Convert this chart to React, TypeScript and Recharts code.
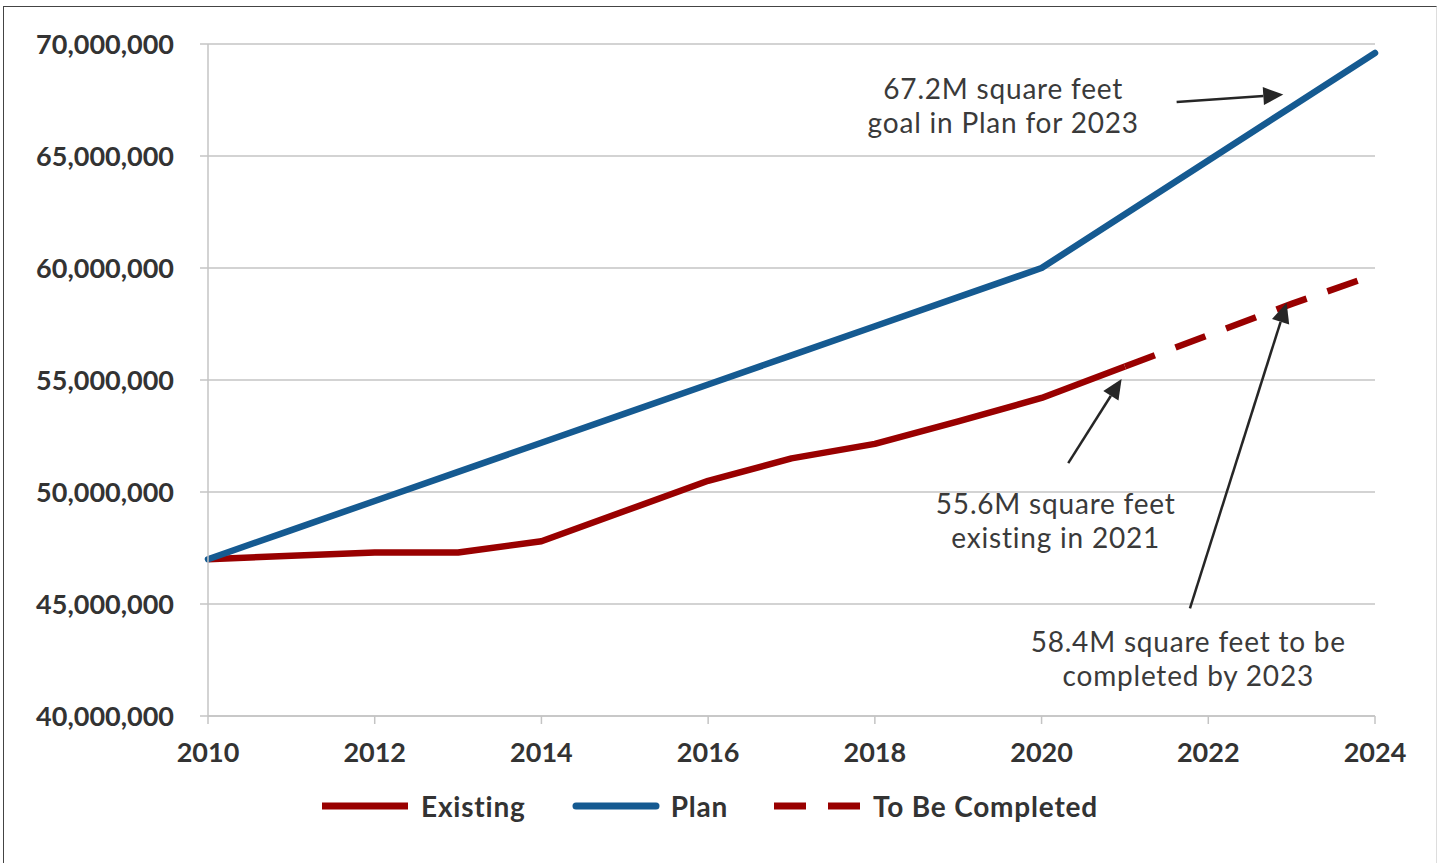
import React from "react";
import {
  LineChart,
  Line,
  XAxis,
  YAxis,
  CartesianGrid,
  Legend,
  ReferenceDot,
  ReferenceLine,
} from "recharts";

// ---- data (millions of square feet) ----
const years = [2010, 2011, 2012, 2013, 2014, 2015, 2016, 2017, 2018, 2019, 2020, 2021, 2022, 2023, 2024];
const existingM = [47.0, 47.15, 47.3, 47.3, 47.8, 49.15, 50.5, 51.5, 52.15, 53.15, 54.2, 55.6, null, null, null];
const planM = [47.0, 48.3, 49.6, 50.9, 52.2, 53.5, 54.8, 56.1, 57.4, 58.7, 60.0, 62.4, 64.8, 67.2, 69.6];
const toBeCompletedM = [null, null, null, null, null, null, null, null, null, null, null, 55.6, 57.0, 58.4, 59.7];
const xTicks = [2010, 2012, 2014, 2016, 2018, 2020, 2022, 2024];
const yTicks = [40000000, 45000000, 50000000, 55000000, 60000000, 65000000, 70000000];

const seriesNames = ["Existing", "Plan", "To Be Completed"];

const annotationTexts = [
  ["67.2M square feet", "goal in Plan for 2023"],
  ["55.6M square feet", "existing in 2021"],
  ["58.4M square feet to be", "completed by 2023"],
];
// annotation anchor points (year, value) for text and arrows
const textAnchors = [
  { x: 2019.54, y: 68040000 },
  { x: 2020.17, y: 49510000 },
  { x: 2021.76, y: 43350000 },
];
const arrows = [
  { from: { x: 2021.62, y: 67410000 }, to: { x: 2022.9, y: 67740000 } },
  { from: { x: 2020.32, y: 51290000 }, to: { x: 2020.96, y: 55050000 } },
  { from: { x: 2021.78, y: 44800000 }, to: { x: 2022.94, y: 58450000 } },
];

const toNum = (v: number | null) => (v == null ? null : Math.round(v * 1e6));
const data = years.map((yr, i) => ({
  year: yr,
  existing: toNum(existingM[i]),
  plan: toNum(planM[i]),
  tbc: toNum(toBeCompletedM[i]),
}));

const RED = "#990000";
const BLUE = "#155a91";
const GRID = "#c4c4c4";
const TEXT = "#333333";
const FONT = "Lato, 'Open Sans', sans-serif";

const AnnotationText = (lines: string[]) => (props: any) => {
  const { cx, cy } = props;
  return (
    <text
      x={cx}
      y={cy}
      textAnchor="middle"
      fill="#3a3a3a"
      fontFamily={FONT}
      fontSize={28}
      fontWeight={400}
      letterSpacing={0.8}
      dominantBaseline="central"
    >
      {lines.map((l, i) => (
        <tspan key={i} x={cx} dy={i === 0 ? 0 : 34}>
          {l}
        </tspan>
      ))}
    </text>
  );
};

const ArrowShape = (props: any) => {
  const { x1, y1, x2, y2 } = props;
  if ([x1, y1, x2, y2].some((v) => v == null || isNaN(v))) return null;
  const dx = x2 - x1;
  const dy = y2 - y1;
  const len = Math.sqrt(dx * dx + dy * dy);
  const ux = dx / len;
  const uy = dy / len;
  const headL = 20;
  const headW = 9;
  const bx = x2 - ux * headL;
  const by = y2 - uy * headL;
  const px = -uy;
  const py = ux;
  return (
    <g>
      <line x1={x1} y1={y1} x2={bx} y2={by} stroke="#262626" strokeWidth={2.5} />
      <polygon
        points={`${x2},${y2} ${bx + px * headW},${by + py * headW} ${bx - px * headW},${by - py * headW}`}
        fill="#262626"
      />
    </g>
  );
};

const LegendContent = () => {
  const items = [
    { name: seriesNames[0], color: RED, dash: undefined as string | undefined, cap: "butt" },
    { name: seriesNames[1], color: BLUE, dash: undefined, cap: "round" },
    { name: seriesNames[2], color: RED, dash: "32 22", cap: "butt" },
  ];
  return (
    <div style={{ display: "flex", alignItems: "center", height: 40 }}>
      {items.map((it, i) => (
        <div key={i} style={{ display: "flex", alignItems: "center", marginRight: i < 2 ? 46 : 0 }}>
          <svg width={88} height={12} style={{ display: "block" }}>
            <line
              x1={it.cap === "round" ? 4 : 0}
              y1={6}
              x2={it.cap === "round" ? 84 : 86}
              y2={6}
              stroke={it.color}
              strokeWidth={7}
              strokeDasharray={it.dash}
              strokeLinecap={it.cap as any}
            />
          </svg>
          <span
            style={{
              marginLeft: 11,
              fontFamily: FONT,
              fontWeight: 700,
              fontSize: 28,
              letterSpacing: 0.8,
              color: TEXT,
            }}
          >
            {it.name}
          </span>
        </div>
      ))}
    </div>
  );
};

export default function App() {
  return (
    <div style={{ position: "absolute", left: 0, top: 0, width: 1442, height: 863, background: "#fff" }}>
      <div
        style={{
          position: "absolute",
          left: 3,
          top: 6,
          width: 1432,
          height: 870,
          borderLeft: "1.5px solid #444",
          borderTop: "1.5px solid #444",
          borderRight: "1px solid #ddd",
        }}
      />
      <LineChart
        width={1442}
        height={863}
        data={data}
        margin={{ top: 44, right: 67, bottom: 67, left: 0 }}
      >
        <CartesianGrid vertical={false} stroke={GRID} strokeWidth={1.5} />
        <XAxis
          dataKey="year"
          type="number"
          domain={[2010, 2024]}
          ticks={xTicks}
          height={40}
          stroke={GRID}
          strokeWidth={1.5}
          tickSize={8}
          tickMargin={19}
          tick={{ fill: TEXT, fontFamily: FONT, fontWeight: 700, fontSize: 27 }}
          allowDecimals={false}
        />
        <YAxis
          type="number"
          domain={[40000000, 70000000]}
          ticks={yTicks}
          width={208}
          stroke={GRID}
          strokeWidth={1.5}
          tickSize={8}
          tickMargin={26}
          tickFormatter={(v: number) => v.toLocaleString("en-US")}
          tick={{ fill: TEXT, fontFamily: FONT, fontWeight: 700, fontSize: 27 }}
        />
        <Legend
          verticalAlign="bottom"
          content={<LegendContent />}
          wrapperStyle={{ top: 786, bottom: "auto", left: 322, width: "auto", height: 40 }}
        />
        <Line
          name={seriesNames[0]}
          dataKey="existing"
          stroke={RED}
          strokeWidth={6.5}
          dot={false}
          type="linear"
          isAnimationActive={false}
          connectNulls={false}
          strokeLinejoin="round"
        />
        <Line
          name={seriesNames[2]}
          dataKey="tbc"
          stroke={RED}
          strokeWidth={6.5}
          strokeDasharray="32 22"
          dot={false}
          type="linear"
          isAnimationActive={false}
        />
        <Line
          name={seriesNames[1]}
          dataKey="plan"
          stroke={BLUE}
          strokeWidth={6.5}
          dot={false}
          type="linear"
          isAnimationActive={false}
          strokeLinecap="round"
          strokeLinejoin="round"
        />
        {arrows.map((a, i) => (
          <ReferenceLine
            key={"a" + i}
            segment={[a.from, a.to]}
            shape={ArrowShape}
            ifOverflow="visible"
          />
        ))}
        {textAnchors.map((t, i) => (
          <ReferenceDot
            key={"t" + i}
            x={t.x}
            y={t.y}
            r={0}
            ifOverflow="visible"
            shape={AnnotationText(annotationTexts[i])}
          />
        ))}
      </LineChart>
    </div>
  );
}
